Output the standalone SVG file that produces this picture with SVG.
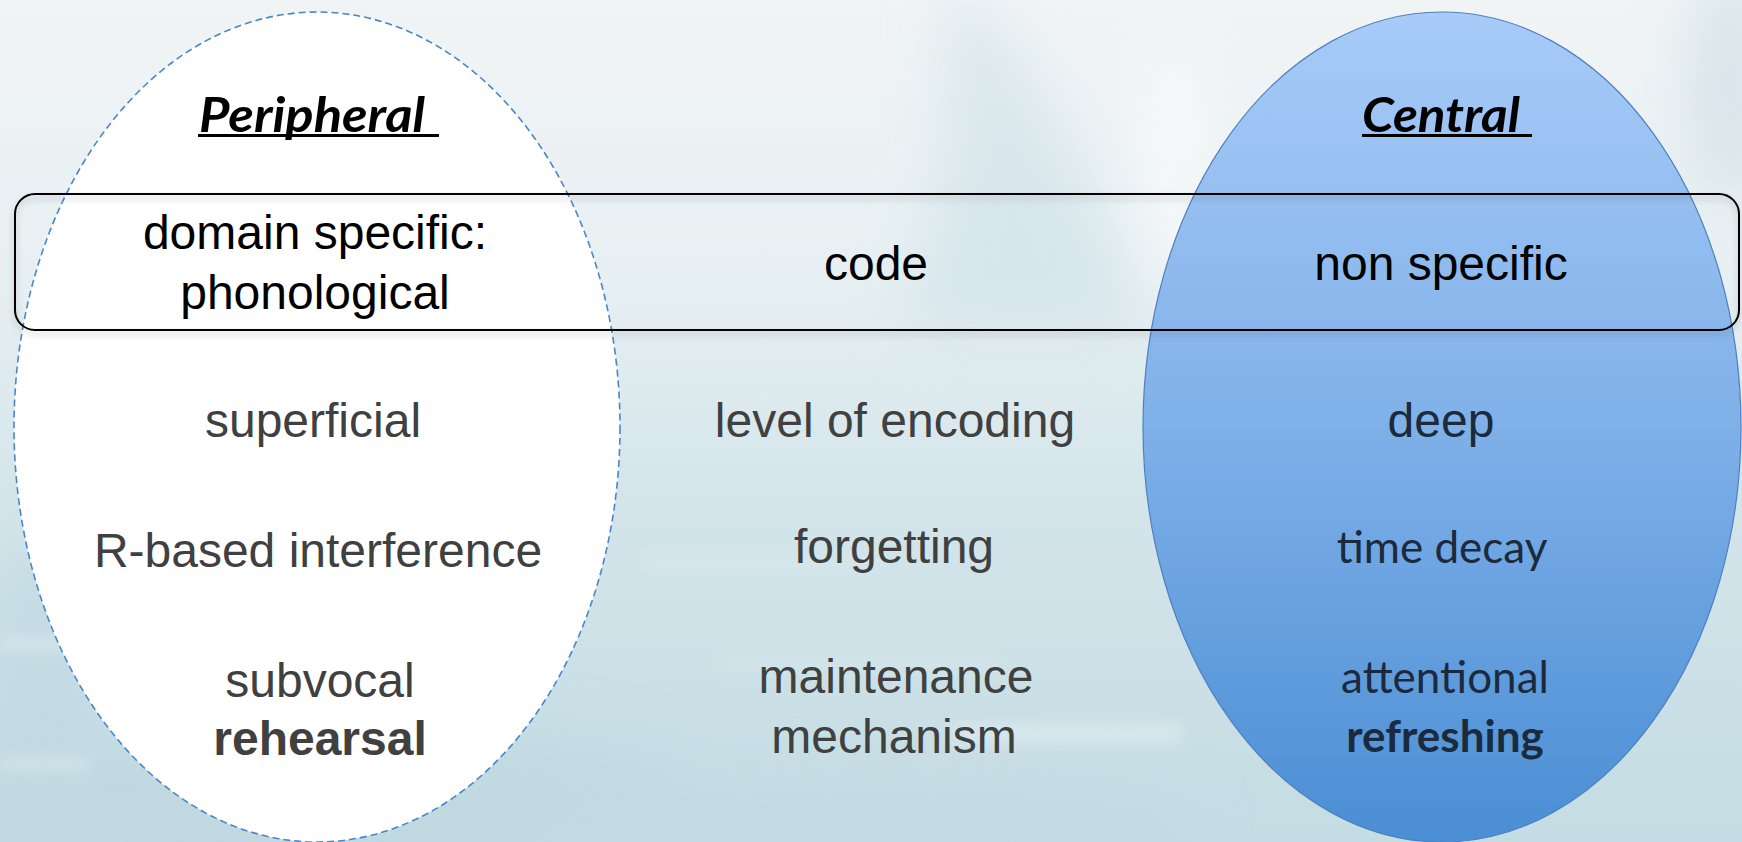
<svg xmlns="http://www.w3.org/2000/svg" width="1742" height="842" viewBox="0 0 1742 842">
  <defs>
    <linearGradient id="bg" x1="0" y1="0" x2="0" y2="1">
      <stop offset="0" stop-color="#f1f4f5"/>
      <stop offset="0.35" stop-color="#e6eff2"/>
      <stop offset="0.6" stop-color="#d3e5ea"/>
      <stop offset="1" stop-color="#c4dce3"/>
    </linearGradient>
    <linearGradient id="blueFill" x1="0" y1="0" x2="0" y2="1">
      <stop offset="0" stop-color="#a8cbf8"/>
      <stop offset="0.5" stop-color="#7fb0e8"/>
      <stop offset="1" stop-color="#4a8ed4"/>
    </linearGradient>
    <filter id="blur" x="-50%" y="-50%" width="200%" height="200%">
      <feGaussianBlur stdDeviation="30"/>
    </filter>
    <filter id="blurS" x="-20%" y="-400%" width="140%" height="900%">
      <feGaussianBlur stdDeviation="8"/>
    </filter>
    <filter id="shadow" x="-5%" y="-20%" width="110%" height="150%">
      <feDropShadow dx="0" dy="4" stdDeviation="3" flood-color="#000" flood-opacity="0.22"/>
    </filter>
    <style>
      .arial { font-family: "Liberation Sans", Arial, sans-serif; font-size: 48px; text-anchor: middle; }
      .blk { fill: #000; }
      .grey { fill: #404040; }
      .cal { font-family: Lato, "Open Sans", sans-serif; font-size: 44px; text-anchor: middle; fill: #1b2a3c; }
      .head { font-family: Lato, "Open Sans", sans-serif; font-size: 48px; font-weight: bold; font-style: italic; fill: #000; }
      .bold { font-weight: bold; }
    </style>
  </defs>

  <!-- background -->
  <g id="background">
    <rect x="0" y="0" width="1742" height="842" fill="url(#bg)"/>
    <g filter="url(#blur)" opacity="0.55">
      <path d="M980 0 C1040 80, 1100 200, 1150 330 L900 330 C940 220, 960 100, 940 0 Z" fill="#c9dfe6"/>
      <ellipse cx="1175" cy="170" rx="35" ry="130" fill="#ffffff"/>
      <ellipse cx="1730" cy="80" rx="40" ry="120" fill="#c3d8e1"/>
      <ellipse cx="280" cy="790" rx="420" ry="70" fill="#bcd6df"/>
      <ellipse cx="40" cy="700" rx="60" ry="160" fill="#bcd6df"/>
      <ellipse cx="880" cy="820" rx="320" ry="40" fill="#c0d8e0"/>
    </g>
    <g filter="url(#blurS)" opacity="0.45">
      <rect x="950" y="728" width="230" height="12" fill="#ffffff"/>
      <rect x="640" y="560" width="240" height="6" fill="#eef5f7"/>
      <rect x="720" y="660" width="280" height="6" fill="#eef5f7"/>
      <rect x="0" y="640" width="70" height="8" fill="#ffffff"/>
      <rect x="0" y="760" width="90" height="8" fill="#ffffff"/>
    </g>
  </g>

  <!-- Peripheral ellipse -->
  <g id="peripheral">
    <ellipse cx="317" cy="427" rx="303" ry="415" fill="#ffffff" stroke="#4a86c8" stroke-width="1.6" stroke-dasharray="7 4"/>
    <text class="head" x="199" y="132" textLength="226" lengthAdjust="spacingAndGlyphs">Peripheral</text>
    <rect x="198" y="134" width="241" height="3" fill="#000"/>
  </g>

  <!-- Central ellipse -->
  <g id="central">
    <ellipse cx="1442" cy="427" rx="299" ry="415" fill="url(#blueFill)" stroke="#4f81bd" stroke-width="1.2"/>
    <text class="head" x="1362" y="132" textLength="158" lengthAdjust="spacingAndGlyphs">Central</text>
    <rect x="1362" y="134" width="170" height="3" fill="#000"/>
  </g>

  <!-- connectors: the row band -->
  <g id="connectors">
    <rect x="15" y="194" width="1724" height="136" rx="20" ry="20" fill="none" stroke="#000" stroke-width="2" filter="url(#shadow)"/>
  </g>

  <!-- code row -->
  <g id="row-code">
    <text class="arial blk" x="315" y="249">domain specific:</text>
    <text class="arial blk" x="315" y="309">phonological</text>
    <text class="arial blk" x="876" y="280">code</text>
    <text class="arial blk" x="1441" y="280">non specific</text>
  </g>

  <!-- level of encoding row -->
  <g id="row-encoding">
    <text class="arial grey" x="313" y="437">superficial</text>
    <text class="arial grey" x="895" y="437">level of encoding</text>
    <text class="arial" x="1441" y="437" fill="#1b2a3c">deep</text>
  </g>

  <!-- forgetting row -->
  <g id="row-forgetting">
    <text class="arial grey" x="318" y="567">R-based interference</text>
    <text class="arial grey" x="894" y="563">forgetting</text>
    <text class="cal" x="1442" y="563">time decay</text>
  </g>

  <!-- maintenance row -->
  <g id="row-maintenance">
    <text class="arial grey" x="320" y="697">subvocal</text>
    <text class="arial grey bold" x="320" y="755">rehearsal</text>
    <text class="arial grey" x="896" y="693">maintenance</text>
    <text class="arial grey" x="894" y="753">mechanism</text>
    <text class="cal" x="1445" y="693">attentional</text>
    <text class="cal bold" x="1445" y="752">refreshing</text>
  </g>
</svg>
